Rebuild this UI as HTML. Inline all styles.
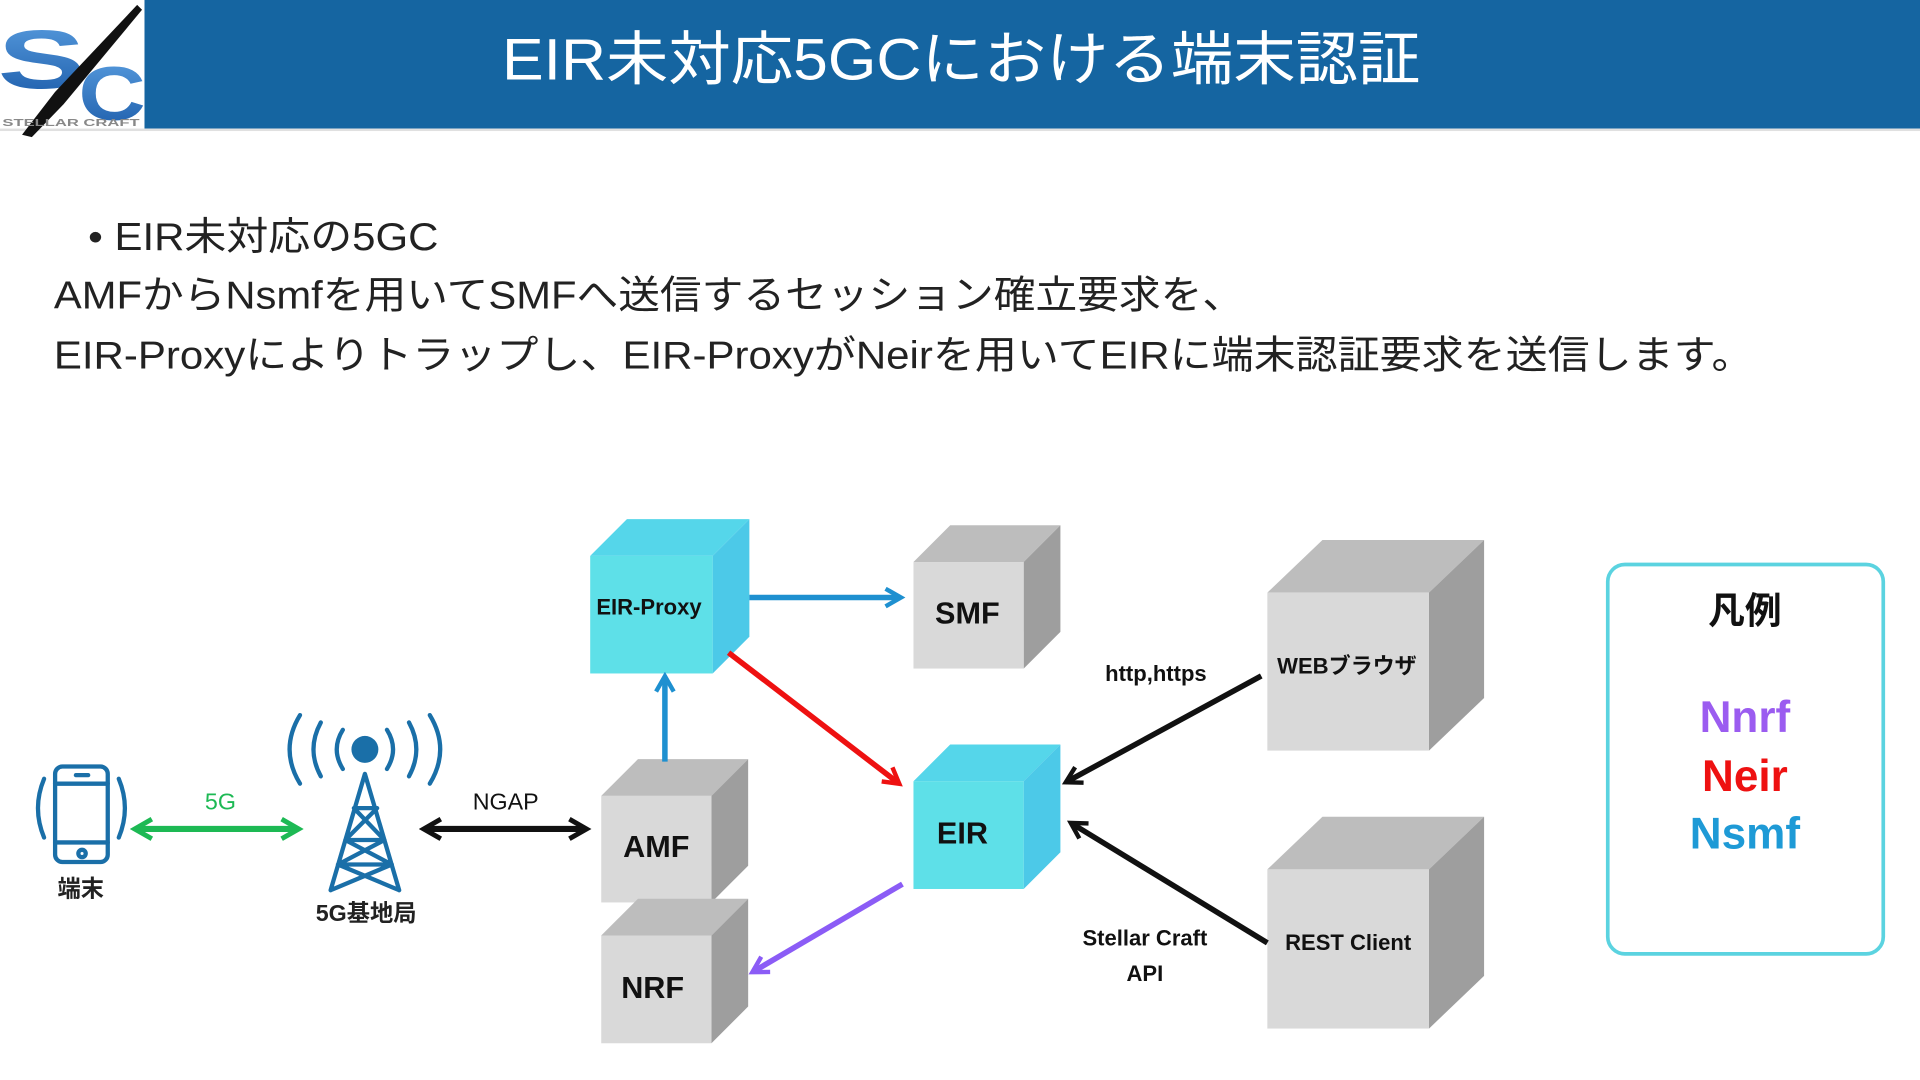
<!DOCTYPE html>
<html><head><meta charset="utf-8"><style>
html,body{margin:0;padding:0;background:#fff;width:1920px;height:1080px;overflow:hidden}
svg text{font-family:"Liberation Sans","Noto Sans CJK JP",sans-serif}
</style></head><body>
<svg width="1920" height="1080" viewBox="0 0 1568 882" xmlns="http://www.w3.org/2000/svg">
<defs>
<linearGradient id="lg" x1="0" y1="0" x2="0" y2="1"><stop offset="0" stop-color="#5a9ee0"/><stop offset="1" stop-color="#1a5aa8"/></linearGradient>
<marker id="mb" viewBox="0 0 10 10" refX="7" refY="5" markerWidth="4" markerHeight="4" orient="auto-start-reverse"><path d="M1,1 L8,5 L1,9" fill="none" stroke="context-stroke" stroke-width="2"/></marker>
</defs>
<rect x="118" y="0" width="1450" height="105" fill="#1565a1"/>
<rect x="0" y="105" width="1568" height="2" fill="#e0e0e0"/>
<text x="410" y="65" font-size="48" fill="#fff" textLength="750" lengthAdjust="spacingAndGlyphs">EIR未対応5GCにおける端末認証</text>
<text x="-2" y="72" font-size="68" font-weight="bold" fill="url(#lg)" textLength="72" lengthAdjust="spacingAndGlyphs">S</text>
<text x="64" y="98" font-size="62" font-weight="bold" fill="url(#lg)" textLength="55" lengthAdjust="spacingAndGlyphs">C</text>
<path d="M18,110 L45,75 L112,4 L116,8 L52,85 L26,112 Z" fill="#111"/>
<text x="2" y="103" font-size="8" fill="#888" font-weight="bold" textLength="112" lengthAdjust="spacingAndGlyphs">STELLAR CRAFT</text>
<text x="72" y="204" font-size="32" fill="#222" textLength="286" lengthAdjust="spacingAndGlyphs">•  EIR未対応の5GC</text>
<text x="44" y="252" font-size="32" fill="#222" textLength="972" lengthAdjust="spacingAndGlyphs">AMFからNsmfを用いてSMFへ送信するセッション確立要求を、</text>
<text x="44" y="301" font-size="32" fill="#222" textLength="1388" lengthAdjust="spacingAndGlyphs">EIR-Proxyによりトラップし、EIR-ProxyがNeirを用いてEIRに端末認証要求を送信します。</text>
<g fill="none" stroke="#1a6fa8" stroke-width="3.5" stroke-linecap="round">
<rect x="45" y="626" width="43" height="78" rx="6"/>
<line x1="45" y1="640" x2="88" y2="640"/><line x1="45" y1="688" x2="88" y2="688"/>
<line x1="62" y1="633" x2="72" y2="633"/><circle cx="67" cy="697" r="3"/>
<path d="M36,636 Q26,660 36,684"/><path d="M97,636 Q107,660 97,684"/>
<path d="M298,632 L270,727 M298,632 L326,727 M282,686 L314,686 M276,706 L320,706 M289,660 L308,660 M289,660 L314,686 M308,660 L282,686 M282,686 L320,706 M314,686 L276,706 M276,706 L326,727 M320,706 L270,727"/>
<path d="M280,596 Q270,612 280,628"/><path d="M316,596 Q326,612 316,628"/>
<path d="M262,590 Q250,612 262,634"/><path d="M334,590 Q346,612 334,634"/>
<path d="M245,584 Q228,612 245,640"/><path d="M351,584 Q368,612 351,640"/>
</g>
<circle cx="298" cy="612" r="11" fill="#1a6fa8"/>
<text x="66" y="732" font-size="19" font-weight="bold" text-anchor="middle" fill="#222">端末</text>
<text x="299" y="752" font-size="19" font-weight="bold" text-anchor="middle" fill="#222">5G基地局</text>
<text x="180" y="661" font-size="19" text-anchor="middle" fill="#1db954">5G</text>
<text x="413" y="661" font-size="19" text-anchor="middle" fill="#111">NGAP</text>
<line x1="112" y1="677" x2="242" y2="677" stroke="#1db954" stroke-width="5" marker-start="url(#mb)" marker-end="url(#mb)"/>
<line x1="348" y1="677" x2="477" y2="677" stroke="#111" stroke-width="5" marker-start="url(#mb)" marker-end="url(#mb)"/>
<g>
<polygon points="746,459 776,429 866,429 836,459" fill="#bdbdbd"/><polygon points="836,459 866,429 866,516 836,546" fill="#9e9e9e"/><rect x="746" y="459" width="90" height="87" fill="#d9d9d9"/>
<polygon points="482,454 512,424 612,424 582,454" fill="#55d6ea"/><polygon points="582,454 612,424 612,520 582,550" fill="#4cc9e8"/><rect x="482" y="454" width="100" height="96" fill="#5ee0e8"/>
<polygon points="491,650 521,620 611,620 581,650" fill="#bdbdbd"/><polygon points="581,650 611,620 611,707 581,737" fill="#9e9e9e"/><rect x="491" y="650" width="90" height="87" fill="#d9d9d9"/>
<polygon points="491,764 521,734 611,734 581,764" fill="#bdbdbd"/><polygon points="581,764 611,734 611,822 581,852" fill="#9e9e9e"/><rect x="491" y="764" width="90" height="88" fill="#d9d9d9"/>
<polygon points="746,638 776,608 866,608 836,638" fill="#55d6ea"/><polygon points="836,638 866,608 866,696 836,726" fill="#4cc9e8"/><rect x="746" y="638" width="90" height="88" fill="#5ee0e8"/>
<polygon points="1035,484 1080,441 1212,441 1167,484" fill="#bdbdbd"/><polygon points="1167,484 1212,441 1212,570 1167,613" fill="#9e9e9e"/><rect x="1035" y="484" width="132" height="129" fill="#d9d9d9"/>
<polygon points="1035,710 1080,667 1212,667 1167,710" fill="#bdbdbd"/><polygon points="1167,710 1212,667 1212,797 1167,840" fill="#9e9e9e"/><rect x="1035" y="710" width="132" height="130" fill="#d9d9d9"/>
</g>
<text x="530" y="502" font-size="18" font-weight="bold" text-anchor="middle" fill="#111">EIR-Proxy</text>
<text x="790" y="509" font-size="25" font-weight="bold" text-anchor="middle" fill="#111">SMF</text>
<text x="536" y="700" font-size="25" font-weight="bold" text-anchor="middle" fill="#111">AMF</text>
<text x="533" y="815" font-size="25" font-weight="bold" text-anchor="middle" fill="#111">NRF</text>
<text x="786" y="689" font-size="25" font-weight="bold" text-anchor="middle" fill="#111">EIR</text>
<text x="1100" y="550" font-size="18" font-weight="bold" text-anchor="middle" fill="#111">WEBブラウザ</text>
<text x="1101" y="776" font-size="18" font-weight="bold" text-anchor="middle" fill="#111">REST Client</text>
<text x="944" y="556" font-size="18" font-weight="bold" text-anchor="middle" fill="#111">http,https</text>
<text x="935" y="772" font-size="18" font-weight="bold" text-anchor="middle" fill="#111">Stellar Craft</text>
<text x="935" y="801" font-size="18" font-weight="bold" text-anchor="middle" fill="#111">API</text>
<line x1="612" y1="488" x2="734" y2="488" stroke="#1e90d0" stroke-width="4.5" marker-end="url(#mb)"/>
<line x1="543" y1="622" x2="543" y2="554" stroke="#1e90d0" stroke-width="4.5" marker-end="url(#mb)"/>
<line x1="595" y1="533" x2="733" y2="639" stroke="#ee1111" stroke-width="4.5" marker-end="url(#mb)"/>
<line x1="737" y1="722" x2="616" y2="793" stroke="#8b5cf6" stroke-width="4.5" marker-end="url(#mb)"/>
<line x1="1030" y1="552" x2="872" y2="638" stroke="#111" stroke-width="4.5" marker-end="url(#mb)"/>
<line x1="1035" y1="770" x2="876" y2="673" stroke="#111" stroke-width="4.5" marker-end="url(#mb)"/>
<rect x="1313" y="461" width="225" height="318" rx="14" fill="#fff" stroke="#5bd3e0" stroke-width="3"/>
<text x="1425" y="509" font-size="30" font-weight="bold" text-anchor="middle" fill="#111">凡例</text>
<text x="1425" y="598" font-size="36" font-weight="bold" text-anchor="middle" fill="#9b5cf0">Nnrf</text>
<text x="1425" y="646" font-size="36" font-weight="bold" text-anchor="middle" fill="#ee1111">Neir</text>
<text x="1425" y="693" font-size="36" font-weight="bold" text-anchor="middle" fill="#1e9ad6">Nsmf</text>
</svg>
</body></html>
